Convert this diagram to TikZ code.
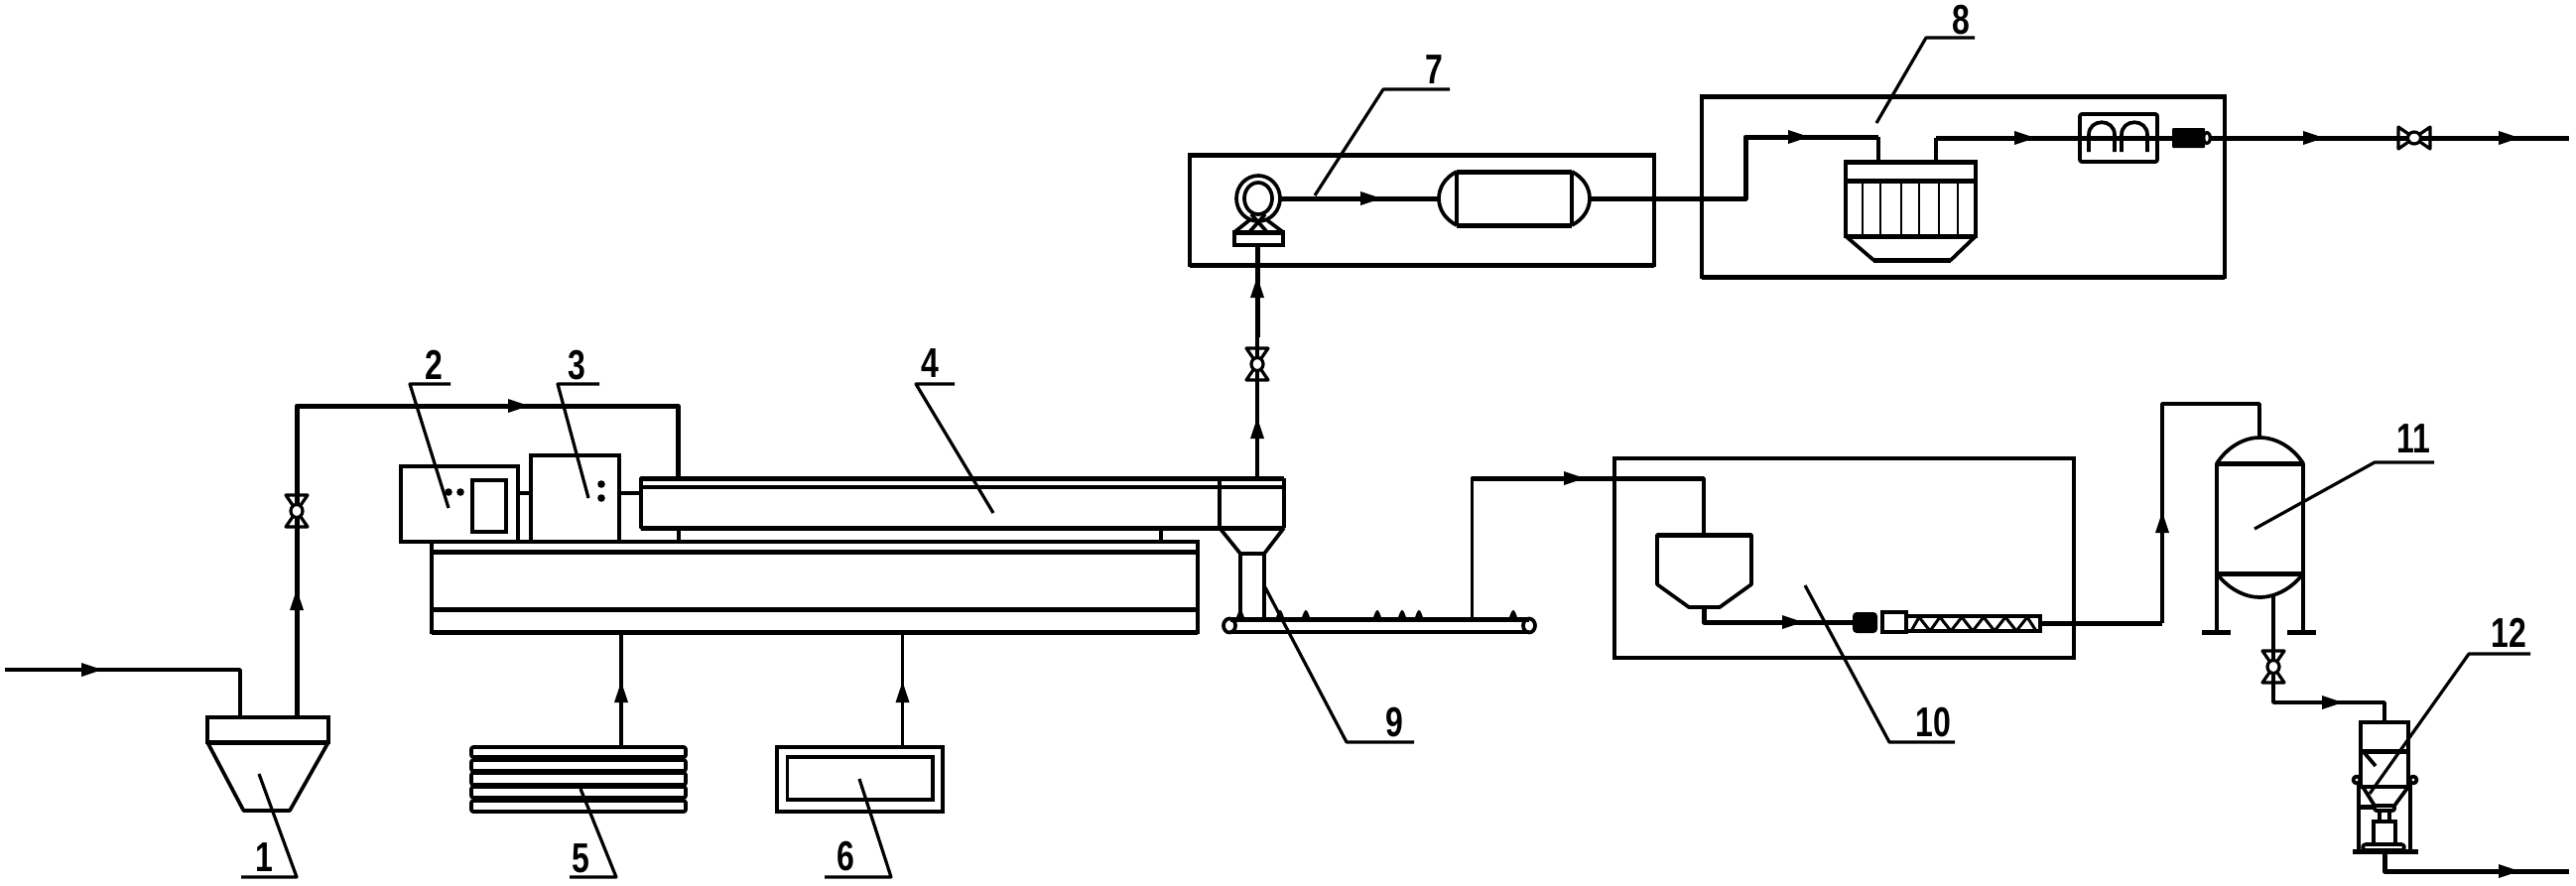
\documentclass[tikz,border=0pt]{standalone}
\usepackage{fontspec}
\setmainfont{Liberation Sans}
\tikzset{
  x=1pt,y=-1pt,
  ln/.style={line width=3.7pt,line join=round,black},
  pipe/.style={ln},
  heavy/.style={line width=5pt,line join=round,black},
  leader/.style={line width=3.2pt,line join=round,black},
  eqbox/.style={draw,line width=3.7pt,inner sep=0pt,outer sep=0pt,fill=none},
  lab/.style={inner sep=0pt,font=\fontsize{40}{40}\selectfont\bfseries},
  valve/.pic={
    \draw[line width=3.2pt,line join=round] (-11,-16)--(11,-16)--(-11,16)--(11,16)--cycle;
    \fill[white] (0,0) ellipse (6.5 and 6.5);
    \draw[line width=3.2pt] (0,0) ellipse (6 and 6.5);
  },
  arrowR/.pic={\fill (-10,-7)--(11,0)--(-10,7)--cycle;},
  bump/.pic={\fill (-4.5,0)..controls (-3,-5) and (-1.5,-9)..(0,-9)..controls (1.5,-9) and (3,-5)..(4.5,0)--cycle;}
}
\newcommand{\eq}[6][]{\node[eqbox,#1,minimum width={(#5-#3)*1pt},minimum height={(#6-#4)*1pt}] (#2) at ({(#3+#5)/2},{(#4+#6)/2}) {};}
\newcommand{\dotc}[2]{\fill (#1,#2) circle (3.8);}
\newcommand{\dg}[1]{\scalebox{.8}[1.05]{#1}}
\begin{document}
\begin{tikzpicture}
\useasboundingbox (0,0) rectangle (2596,892);
% ---- 1 hopper
\eq{hopTop}{209}{723}{331}{748}
\draw[ln] (209,748)--(245.5,817)--(292,817)--(331,748);
\draw[heavy] (209,748)--(331,748);
\coordinate (in0) at (5,675);
\coordinate (in1) at (242,723);
\draw[pipe] (in0)--(242,675)--(in1);
\pic at (92,675) {arrowR};
% ---- pipe to box 4
\coordinate (o1) at (299,723);
\coordinate (o2) at (683,481);
\draw[heavy] (o1)--(299,409)--(683,409)--(o2);
\pic[rotate=90] at (299,605) {arrowR};
\pic at (522,409) {arrowR};
\pic at (299,515) {valve};
% ---- 2, 3
\eq{boxB}{404}{470}{522}{546}
\eq{boxBi}{476}{484}{510}{536}
\dotc{452}{496}\dotc{464}{496}
\eq{boxC}{535}{459}{624}{546}
\dotc{606}{488}\dotc{606}{502}
\draw[ln] (522,497)--(535,497);
\draw[ln] (624,497)--(646,497);
% ---- 4
\draw[ln] (1294,482)--(646,482)--(646,532)--(1229,532);
\draw[heavy] (646,482)--(1294,482);
\draw[ln] (646,491)--(1294,491);
\draw[heavy] (646,532)--(1294,532);
\draw[ln] (1229,482)--(1229,532);
\draw[ln] (1294,482)--(1294,532);
\draw[ln] (1229,532)--(1250,558)--(1274,558)--(1294,532);
\draw[ln] (1250,558)--(1250,624);
\draw[ln] (1274,558)--(1274,624);
% ---- furnace
\eq{furn}{435}{546}{1207}{637}
\draw[heavy] (435,556)--(1207,556);
\draw[heavy] (435,614)--(1207,614);
\draw[heavy] (435,637)--(1207,637);
\draw[ln] (684,532)--(684,546);
\draw[ln] (1170,532)--(1170,546);
% ---- 5
\foreach \a/\b in {753/763,766/777,779/791,793/804,807/818}
  \draw[ln,rounded corners=2pt] (475,\a) rectangle (691,\b);
\coordinate (five) at (626,753);
\draw[ln] (five)--(626,637);
\pic[rotate=90] at (626,698) {arrowR};
% ---- 6
\eq{boxF}{783}{753}{950}{818}
\eq{boxFi}{793.5}{763}{940}{806}
\draw[ln] (909.5,753)--(909.5,637);
\pic[rotate=90] at (909.5,698) {arrowR};
% ---- 9 conveyor
\draw[heavy] (1240,624)--(1541,624);
\draw[ln] (1240,637)--(1541,637);
\draw[ln] (1239,630.5) ellipse (6 and 7);
\draw[ln] (1541,630.5) ellipse (6 and 7);
\foreach \p in {1250,1290,1316,1388,1413,1430,1525}
  \pic at (\p,624) {bump};
% ---- to 10
\coordinate (c1) at (1483.5,624);
\coordinate (c2) at (1717,539);
\draw[ln] (c1)--(1483.5,482)--(1717,482)--(c2);
\draw[heavy] (1483.5,482)--(1717,482);
\pic at (1586,482) {arrowR};
% ---- 10
\eq{boxJ}{1627}{462}{2090}{663}
\draw[ln] (1670,589)--(1670,539)--(1765,539)--(1765,589)--(1733,612)--(1702,612)--cycle;
\draw[heavy] (1670,539)--(1765,539);
\coordinate (s1) at (1717,612);
\coordinate (s2) at (1867,627);
\draw[heavy] (s1)--(1717,627)--(s2);
\pic at (1806,627) {arrowR};
\fill[rounded corners=4pt] (1867,617) rectangle (1892,638);
\eq{coup}{1897}{617}{1921}{637}
\eq{screw}{1921}{621}{2056}{636}
\draw[ln,line width=3pt] (1926,636)--(1934,622)--(1945,636)--(1955,622)--(1966,636)--(1977,622)--(1988,636)--(1999,622)--(2010,636)--(2021,622)--(2032,636)--(2043,622)--(2052,636);
\coordinate (s3) at (2056,628);
\coordinate (s4) at (2277,441);
\draw[heavy] (s3)--(2179,628);
\draw[ln] (2179,628)--(2179,407)--(2277,407)--(s4);
\pic[rotate=90] at (2179,527) {arrowR};
% ---- 11
\draw[ln] (2234,467)..controls (2245,450) and (2262,441)..(2277,441)..controls (2293,441) and (2310,450)..(2321,467)--cycle;
\draw[ln] (2234,578)..controls (2245,593) and (2262,602)..(2277,602)..controls (2293,602) and (2310,593)..(2321,578)--cycle;
\draw[heavy] (2234,467)--(2321,467);
\draw[heavy] (2234,578)--(2321,578);
\draw[ln] (2234,467)--(2234,637);
\draw[ln] (2321,467)--(2321,637);
\draw[heavy] (2219,637)--(2248,637);
\draw[heavy] (2305,637)--(2334,637);
\coordinate (t1) at (2291,600);
\coordinate (t2) at (2403,728);
\draw[ln] (t1)--(2291,708)--(2403,708)--(t2);
\pic at (2291,672) {valve};
\pic at (2350,708) {arrowR};
% ---- 12
\eq{bagTop}{2379}{728}{2427}{793}
\draw[heavy] (2379,757)--(2427,757);
\draw[ln] (2382,758)--(2394,772);
\draw[ln] (2375,786) circle (3.5);
\draw[ln] (2432,786) circle (3.5);
\draw[ln] (2377,790)--(2377,857);
\draw[ln] (2429,790)--(2429,857);
\draw[ln] (2381,793)--(2393,812);
\draw[ln] (2427,793)--(2413,812);
\draw[ln,rounded corners=2pt] (2393,812) rectangle (2413,817);
\draw[heavy] (2377,813)--(2393,813);
\draw[ln] (2398,817)--(2398,828);
\draw[ln] (2408,817)--(2408,828);
\eq{bagBox}{2392}{828}{2414}{851}
\draw[ln,rounded corners=3pt] (2381,851) rectangle (2423,857);
\draw[heavy] (2371,858)--(2437,858);
\coordinate (u1) at (2403,858);
\coordinate (u2) at (2589,878);
\draw[heavy] (u1)--(2403,878)--(u2);
\pic at (2528,878) {arrowR};
% ---- up from 4 to 7
\coordinate (b0) at (1267,482);
\coordinate (b1) at (1267,247);
\draw[ln] (b0)--(b1);
\draw[heavy] (1267,340)--(1267,247);
\pic[rotate=90] at (1267,432) {arrowR};
\pic[rotate=90] at (1267,290) {arrowR};
\pic at (1267,367) {valve};
% ---- 7
\eq{boxG}{1199}{156}{1667}{267}
\draw[heavy] (1199,156)--(1667,156);
\draw[heavy] (1199,267)--(1667,267);
\draw[ln] (1268,200) ellipse (22 and 23);
\draw[ln] (1268,200) ellipse (14 and 16);
\draw[ln] (1261,216)--(1277,234);
\draw[ln] (1275,216)--(1259,234);
\draw[ln] (1259,222)--(1244,234);
\draw[ln] (1277,222)--(1293,234);
\eq{baseG}{1244}{234}{1293}{247}
\draw[heavy] (1244,234)--(1293,234);
\coordinate (g1) at (1290,200);
\coordinate (g2) at (1450,200);
\draw[heavy] (g1)--(g2);
\pic at (1381,200) {arrowR};
\draw[ln] (1468,173)..controls (1444,185) and (1444,215)..(1468,227);
\draw[ln] (1584,173)..controls (1608,185) and (1608,215)..(1584,227);
\draw[heavy] (1468,173)--(1584,173);
\draw[heavy] (1468,227)--(1584,227);
\draw[ln] (1468,173)--(1468,227);
\draw[ln] (1584,173)--(1584,227);
% ---- 7 to 8
\coordinate (h1) at (1602,200);
\coordinate (h2) at (1893,163);
\draw[heavy] (h1)--(1759,200)--(1759,138)--(1893,138);
\draw[ln] (1893,138)--(h2);
\pic at (1812,138) {arrowR};
% ---- 8
\eq{boxH}{1715}{97}{2242}{279}
\draw[heavy] (1715,97)--(2242,97);
\draw[heavy] (1715,279)--(2242,279);
\eq{filt}{1860}{163}{1991}{238}
\draw[heavy] (1860,163)--(1991,163);
\draw[heavy] (1860,182)--(1991,182);
\draw[heavy] (1860,238)--(1991,238);
\foreach \v in {1877,1895,1916,1934,1954,1973}
  \draw[ln,line width=2.6pt] (\v,182)--(\v,238);
\draw[ln] (1860,238)--(1888,262)--(1966,262)--(1991,238);
\draw[heavy] (1888,262)--(1966,262);
\coordinate (k1) at (1951,163);
\coordinate (k2) at (2189,139);
\draw[ln] (k1)--(1951,139);
\draw[heavy] (1951,139)--(k2);
\pic at (2040,139) {arrowR};
\draw[ln,rounded corners=2pt] (2096,115) rectangle (2174,163);
\foreach \o in {0,33}{
  \draw[ln] ({2105+\o},153)--({2105+\o},136)..controls ({2105+\o},119) and ({2131+\o},119)..({2131+\o},136)--({2131+\o},153);
}
\fill[rounded corners=1pt] (2189,129) rectangle (2222,149);
\fill (2224,139) ellipse (5 and 7);
\fill[white] (2224,139) ellipse (1.6 and 3.5);
\coordinate (k3) at (2228,139);
\coordinate (k4) at (2589,139);
\draw[heavy] (k3)--(k4);
\pic at (2331,139) {arrowR};
\pic[rotate=90] at (2433,139) {valve};
\pic at (2528,139) {arrowR};
% ---- labels
\node[lab] (n1) at (266,864) {\dg{1}};
\node[lab] (n2) at (437,368) {\dg{2}};
\node[lab] (n3) at (581,368) {\dg{3}};
\node[lab] (n4) at (937,366) {\dg{4}};
\node[lab] (n5) at (585,865) {\dg{5}};
\node[lab] (n6) at (852,863) {\dg{6}};
\node[lab] (n7) at (1445,70) {\dg{7}};
\node[lab] (n8) at (1976,20) {\dg{8}};
\node[lab] (n9) at (1405,728) {\dg{9}};
\node[lab] (n10) at (1948,728) {\dg{10}};
\node[lab] (n11) at (2432,442) {\dg{11}};
\node[lab] (n12) at (2528,638) {\dg{12}};
\draw[leader] (261,780)--(299,884)--(243,884);
\draw[leader] (452,512)--(413,387)--(454,387);
\draw[leader] (593,502)--(562,387)--(604,387);
\draw[leader] (1001,517)--(923,387)--(962,387);
\draw[leader] (585,795)--(621,884)--(574,884);
\draw[leader] (866,785)--(898,884)--(831,884);
\draw[leader] (1325,197)--(1394,90)--(1461,90);
\draw[leader] (1891,124)--(1941,38)--(1990,38);
\draw[leader] (1275,592)--(1357,748)--(1425,748);
\draw[leader] (1819,590)--(1904,748)--(1970,748);
\draw[leader] (2272,533)--(2393,466)--(2453,466);
\draw[leader] (2388,800)--(2488,659)--(2550,659);
\end{tikzpicture}
\end{document}
